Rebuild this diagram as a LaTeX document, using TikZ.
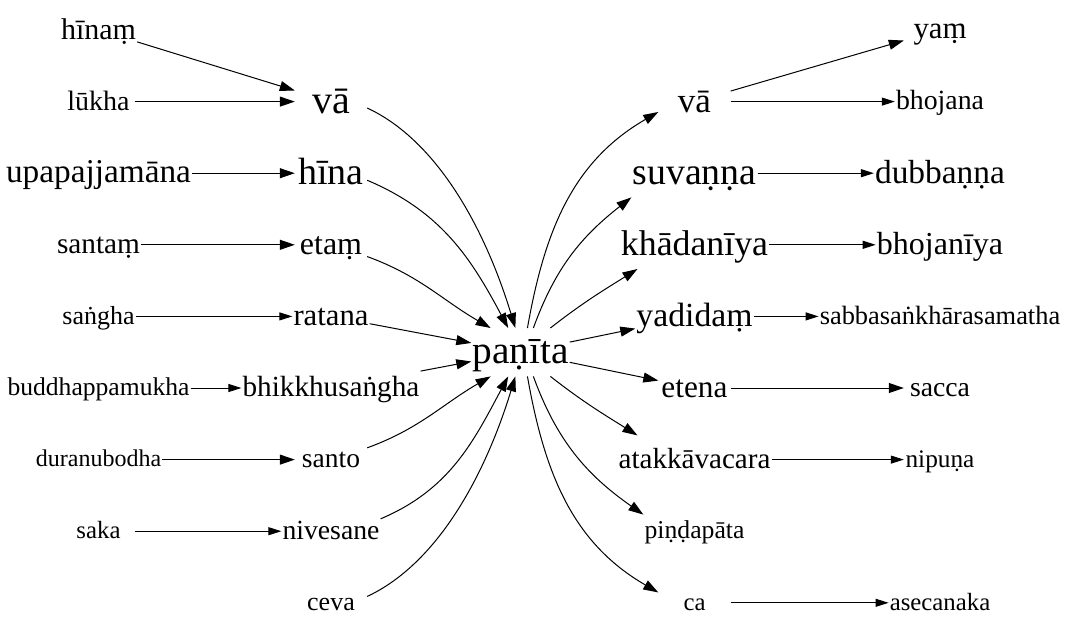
\documentclass[tikz,border=0pt]{standalone}
\usepackage{fontspec}
\setmainfont{Liberation Serif}
\usetikzlibrary{arrows.meta}
\newcommand{\fs}[1]{\fontsize{#1}{#1}\selectfont}
\newcommand{\wstrut}{\rule[-.2em]{0pt}{1em}}
\tikzset{%
	word/.style      = {inner xsep=1pt, inner ysep=0pt, minimum width=72pt, minimum height=48pt, execute at begin node=\wstrut},
	link/.style      = {line width=1pt, -{Triangle[length=15pt,width=10pt]}},
	thin link/.style = {line width=1pt, -{Triangle[length=13pt,width=8pt]}},
}
\begin{document}
\begin{tikzpicture}[x=1pt,y=-1pt]
	\useasboundingbox (0,0) rectangle (1067,635);
	% left words
	\node[word,font=\fs{30}]   (hinam)          at (98.5,30)    {hīnaṃ};
	\node[word,font=\fs{28}]   (lukha)          at (98.5,101.6) {lūkha};
	\node[word,font=\fs{33.3}] (upapajjamana)   at (98.5,173.2) {upapajjamāna};
	\node[word,font=\fs{29.3}] (santam)         at (98.5,244.8) {santaṃ};
	\node[word,font=\fs{26}]   (sangha)         at (98.5,316.4) {saṅgha};
	\node[word,font=\fs{25.6}] (buddhappamukha) at (98.5,388)   {buddhappamukha};
	\node[word,font=\fs{24}]   (duranubodha)    at (98.5,459.6) {duranubodha};
	\node[word,font=\fs{24.8}] (saka)           at (98.5,531.2) {saka};
	\node[word,font=\fs{40}]   (va1)            at (331,101.6)  {vā};
	\node[word,font=\fs{38}]   (hina)           at (331,173.2)  {hīna};
	\node[word,font=\fs{32}]   (etam)           at (331,244.8)  {etaṃ};
	\node[word,font=\fs{30.7}] (ratana)         at (331,316.4)  {ratana};
	\node[word,font=\fs{29.2}] (bhikkhusangha)  at (331,388)    {bhikkhusaṅgha};
	\node[word,font=\fs{27.5}] (santo)          at (331,459.6)  {santo};
	\node[word,font=\fs{27.7}] (nivesane)       at (331,531.2)  {nivesane};
	\node[word,font=\fs{26}]   (ceva)           at (331,602.8)  {ceva};
	% centre
	\node[word,font=\fs{39.3}] (panita)         at (520.5,352.2) {paṇīta};
	% right words
	\node[word,font=\fs{35}]   (va2)            at (694.5,101.6) {vā};
	\node[word,font=\fs{37.8}] (suvanna)        at (694.5,173.2) {suvaṇṇa};
	\node[word,font=\fs{35.8}] (khadaniya)      at (694.5,244.8) {khādanīya};
	\node[word,font=\fs{33.7}] (yadidam)        at (694.5,316.4) {yadidaṃ};
	\node[word,font=\fs{31.3}] (etena)          at (694.5,388)   {etena};
	\node[word,font=\fs{29.1}] (atakkavacara)   at (694.5,459.6) {atakkāvacara};
	\node[word,font=\fs{25.7}] (pindapata)      at (694.5,531.2) {piṇḍapāta};
	\node[word,font=\fs{24.8}] (ca)             at (694.5,602.8) {ca};
	\node[word,font=\fs{30.8}] (yam)            at (940,30)      {yaṃ};
	\node[word,font=\fs{27.8}] (bhojana)        at (940,101.6)   {bhojana};
	\node[word,font=\fs{33.4}] (dubbanna)       at (940,173.2)   {dubbaṇṇa};
	\node[word,font=\fs{32}]   (bhojaniya)      at (940,244.8)   {bhojanīya};
	\node[word,font=\fs{26.4}] (sabba)          at (940,316.4)   {sabbasaṅkhārasamatha};
	\node[word,font=\fs{27.7}] (sacca)          at (940,388)     {sacca};
	\node[word,font=\fs{25.3}] (nipuna)         at (940,459.6)   {nipuṇa};
	\node[word,font=\fs{24.8}] (asecanaka)      at (940,602.8)   {asecanaka};
	% into the left column
	\draw[link] (hinam) -- (va1);
	\draw[link] (lukha) -- (va1);
	\draw[link] (upapajjamana) -- (hina);
	\draw[link] (santam) -- (etam);
	\draw[thin link] (sangha) -- (ratana);
	\draw[thin link] (buddhappamukha) -- (bhikkhusangha);
	\draw[link] (duranubodha) -- (santo);
	\draw[thin link] (saka) -- (nivesane);
	% into panita
	\draw[link] (va1.-10) to[out=-25,in=107,out looseness=.75] (panita.102);
	\draw[link] (hina.-11) to[out=-23,in=118] (panita.117);
	\draw[link] (etam.-18) to[out=-20,in=150] (panita.141);
	\draw[link] (ratana) -- (panita);
	\draw[link] (bhikkhusangha) -- (panita);
	\draw[link] (santo.18) to[out=20,in=-150] (panita.-141);
	\draw[link] (nivesane.14) to[out=23,in=-118] (panita.-117);
	\draw[link] (ceva.10) to[out=25,in=-107,out looseness=.75] (panita.-102);
	% out of panita
	\draw[link] (panita.74) to[out=80,in=210] (va2.196);
	\draw[link] (panita.62) to[out=70,in=218] (suvanna.south west);
	\draw[link] (panita.39) to[out=38,in=212] (khadaniya.203);
	\draw[link] (panita) -- (yadidam);
	\draw[link] (panita) -- (etena);
	\draw[link] (panita.-39) to[out=-38,in=148] (atakkavacara.157);
	\draw[link] (panita.-62) to[out=-70,in=145] (pindapata.162);
	\draw[link] (panita.-74) to[out=-80,in=150] (ca.164);
	% right column
	\draw[link] (va2) -- (yam);
	\draw[thin link] (va2) -- (bhojana);
	\draw[thin link] (suvanna) -- (dubbanna);
	\draw[thin link] (khadaniya) -- (bhojaniya);
	\draw[thin link] (yadidam) -- (sabba);
	\draw[link] (etena) -- (sacca);
	\draw[thin link] (atakkavacara) -- (nipuna);
	\draw[thin link] (ca) -- (asecanaka);
\end{tikzpicture}
\end{document}
